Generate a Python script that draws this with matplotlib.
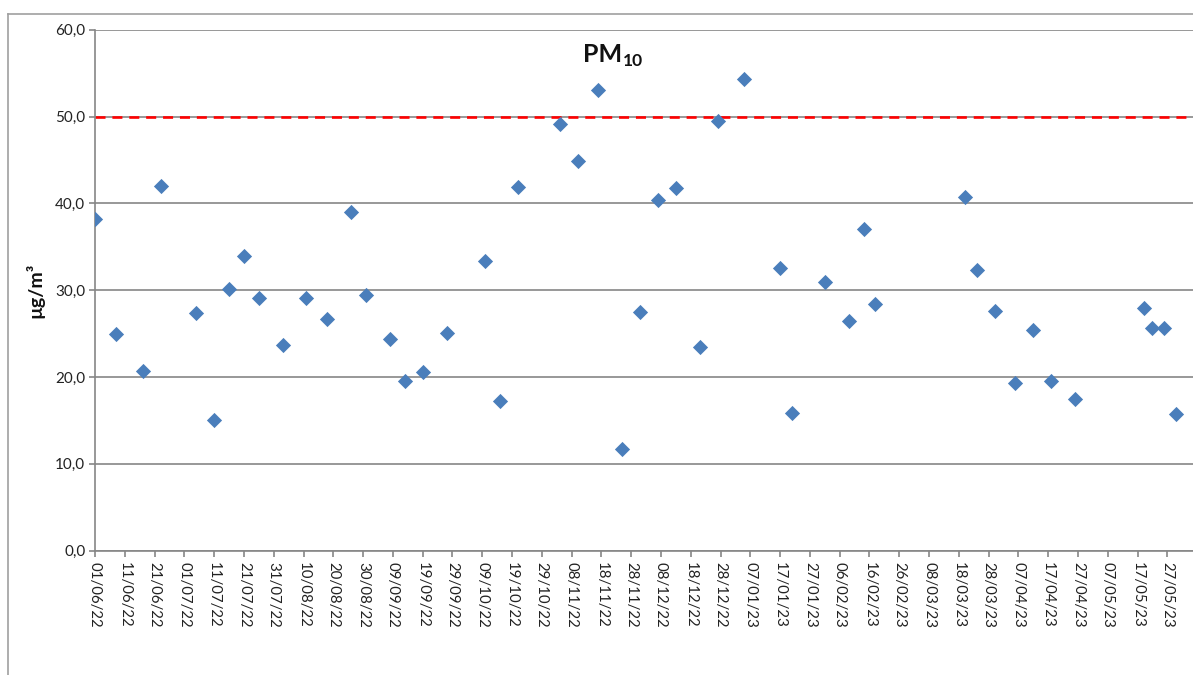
import matplotlib
matplotlib.use("Agg")
import matplotlib.pyplot as plt
import matplotlib.dates as mdates
from matplotlib.lines import Line2D
import pandas as pd

plt.rcParams['font.family'] = ['Lato', 'DejaVu Sans']

# sampling dates and PM10 daily values (ug/m3)
dates = ['2022-06-01', '2022-06-08', '2022-06-17', '2022-06-23', '2022-07-05',
         '2022-07-11', '2022-07-16', '2022-07-21', '2022-07-26', '2022-08-03',
         '2022-08-11', '2022-08-18', '2022-08-26', '2022-08-31', '2022-09-08',
         '2022-09-13', '2022-09-19', '2022-09-27', '2022-10-10', '2022-10-15',
         '2022-10-21', '2022-11-04', '2022-11-10', '2022-11-17', '2022-11-25',
         '2022-12-01', '2022-12-07', '2022-12-13', '2022-12-21', '2022-12-27',
         '2023-01-05', '2023-01-17', '2023-01-21', '2023-02-01', '2023-02-09',
         '2023-02-14', '2023-02-18', '2023-03-20', '2023-03-24', '2023-03-30',
         '2023-04-06', '2023-04-12', '2023-04-18', '2023-04-26', '2023-05-19',
         '2023-05-22', '2023-05-26', '2023-05-30']
pm10 = [38.2, 25.0, 20.7, 42.0, 27.4,
        15.0, 30.1, 33.9, 29.1, 23.7,
        29.1, 26.7, 39.0, 29.5, 24.4,
        19.5, 20.6, 25.1, 33.4, 17.2,
        41.9, 49.1, 44.9, 53.0, 11.7,
        27.5, 40.4, 41.8, 23.5, 49.5,
        54.3, 32.5, 15.9, 30.9, 26.5,
        37.1, 28.4, 40.7, 32.3, 27.6,
        19.3, 25.4, 19.5, 17.5, 28.0,
        25.6, 25.6, 15.7]
limit_value = 50.0
tick_start = '2022-06-01'
n_ticks = 37

x = pd.to_datetime(dates)
ticks = pd.date_range(tick_start, periods=n_ticks, freq='10D')

W, H = 1193, 675
fig = plt.figure(figsize=(W / 100, H / 100), dpi=100)
ax = fig.add_axes([95 / W, 1 - 550.7 / H, 1 - 95 / W, (550.7 - 29.7) / H])

grey = '#868686'

ax.scatter(x, pm10, marker='D', s=60, color='#4A7EBB', zorder=3, linewidths=0)
ax.axhline(limit_value, color='#FF0000', lw=1.9, dashes=(3.8, 2.6), zorder=2)

ax.set_ylim(0, 60)
ax.set_yticks(range(0, 61, 10))
ax.set_yticklabels([f'{v},0' for v in range(0, 61, 10)])
start = pd.Timestamp(tick_start)
ax.set_xlim(start, start + pd.Timedelta(days=368.6))
ax.set_xticks(ticks)
ax.xaxis.set_major_formatter(mdates.DateFormatter('%d/%m/%y'))
plt.setp(ax.get_xticklabels(), rotation=-90, ha='center', va='top')

ax.grid(axis='y', color=grey, lw=1.2, zorder=1)
ax.set_axisbelow(True)
for s in ['top', 'right']:
    ax.spines[s].set_visible(False)
for s in ['left', 'bottom']:
    ax.spines[s].set_color(grey)
    ax.spines[s].set_linewidth(1.2)
ax.tick_params(axis='both', colors=grey, length=4, width=1.2, labelcolor='#222222')
ax.tick_params(axis='x', pad=4, labelsize=10.8)
ax.tick_params(axis='y', pad=3, labelsize=11)

ax.set_ylabel('µg/m³', fontsize=14, fontweight='bold', color='#111111', labelpad=8)

# title "PM10" with subscript, inside the plot
t = fig.text(583 / W, 1 - 62 / H, 'PM', ha='left', va='baseline',
             fontsize=18, fontweight='bold', color='#111111')
ax.annotate('10', xy=(1, 0), xycoords=t, xytext=(0.5, -2.5), textcoords='offset points',
            ha='left', va='bottom', fontsize=12.5, fontweight='bold', color='#111111')

# outer chart border (cropped on right and bottom)
fig.add_artist(Line2D([8 / W, 8 / W], [0, 1 - 14 / H], transform=fig.transFigure,
                      color='#a0a0a0', lw=1.2))
fig.add_artist(Line2D([8 / W, 1], [1 - 14 / H, 1 - 14 / H], transform=fig.transFigure,
                      color='#a0a0a0', lw=1.2))

fig.savefig('out.png', dpi=100)
